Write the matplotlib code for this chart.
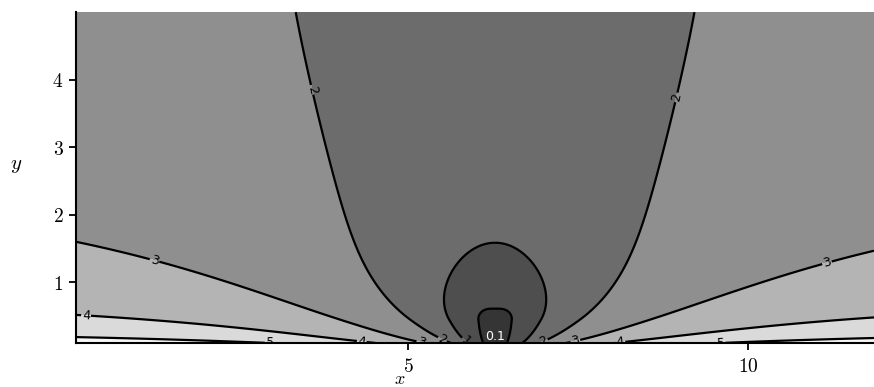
import numpy as np
import matplotlib.pyplot as plt

plt.rcParams['mathtext.fontset'] = 'cm'

# contour levels, fills (lowest band first) and axes
levels = [0.1, 1, 2, 3, 4, 5]
fill_colors = ['#353535', '#4e4e4e', '#6c6c6c', '#8f8f8f', '#b4b4b4', '#dadada', '#f7f7f7']
label_text = {0.1: '0.1', 1: '1', 2: '2', 3: '3', 4: '4', 5: '5'}
label_spots = {
    0.1: [(6.28, 0.19)],
    1: [(5.86, 0.14)],
    2: [(3.46, 3.82), (9.10, 3.70), (5.50, 0.14), (6.98, 0.14)],
    3: [(1.31, 1.46), (11.10, 1.50), (5.20, 0.13), (7.46, 0.13)],
    4: [(0.27, 0.56), (4.32, 0.12), (8.12, 0.12)],
    5: [(3.09, 0.12), (9.59, 0.12)],
}
x_ticks = [5, 10]
x_tick_labels = ['$5$', '$10$']
y_ticks = [1, 2, 3, 4]
y_tick_labels = ['$1$', '$2$', '$3$', '$4$']
x_range = [0.12, 11.85]
y_range = [0.1, 5.0]

# parameters of the plotted field f(x, y) = ln(1 + (G(|x-x0|, y) + K(y)) / y)
x0 = 6.28
a_g, c_g, e_g, y_e = 2.1, 4.5, 0.39, 0.7
a_k, b_k, y_k, s_k = 2.55, 0.0138, 0.45, 1.648

x = np.linspace(x_range[0], x_range[1], 800)
y = np.linspace(y_range[0], y_range[1], 400)
X, Y = np.meshgrid(x, y)
d2 = (X - x0)**2
core = e_g**2 * np.exp(-(Y / y_e)**2)
G = a_g * d2**2 / (d2 + core) / (1 + d2 / c_g**2)
t = np.clip(Y - y_k, 0, None)
K = a_k * t**2 / np.sqrt(1 + (t / s_k)**2) + b_k * t**3
F = np.log(1 + (G + K) / Y)

fig = plt.figure(figsize=(8.74, 3.87), dpi=100)
ax = fig.add_axes([0.087, 0.1137, 0.913, 0.855])

ax.contourf(X, Y, F, levels=[0] + levels + [50], colors=fill_colors)
for lev in levels:
    cs = ax.contour(X, Y, F, levels=[lev], colors='k', linewidths=1.6)
    if lev == 0.1:
        # the innermost label sits flat inside the small dark patch
        for px, py in label_spots[lev]:
            ax.text(px, py, label_text[lev], color='white', fontsize=9,
                    ha='center', va='center')
        continue
    ax.clabel(cs, fmt={lev: label_text[lev]}, manual=label_spots[lev],
              fontsize=9, colors='k', inline=True, inline_spacing=1)

ax.set_xlim(x_range)
ax.set_ylim(y_range)
ax.set_xticks(x_ticks)
ax.set_xticklabels(x_tick_labels)
ax.set_yticks(y_ticks)
ax.set_yticklabels(y_tick_labels)
ax.tick_params(direction='out', length=5, width=1.3, labelsize=14, pad=4)
ax.tick_params(axis='x', pad=5)
for side in ['top', 'right']:
    ax.spines[side].set_visible(False)
for side in ['left', 'bottom']:
    ax.spines[side].set_linewidth(1.5)

fig.text(400 / 874, 1 - 379 / 387, '$x$', fontsize=13, ha='center', va='center')
fig.text(16 / 874, 1 - 165 / 387, '$y$', fontsize=15, ha='center', va='center')

fig.savefig('out.png', dpi=100)
